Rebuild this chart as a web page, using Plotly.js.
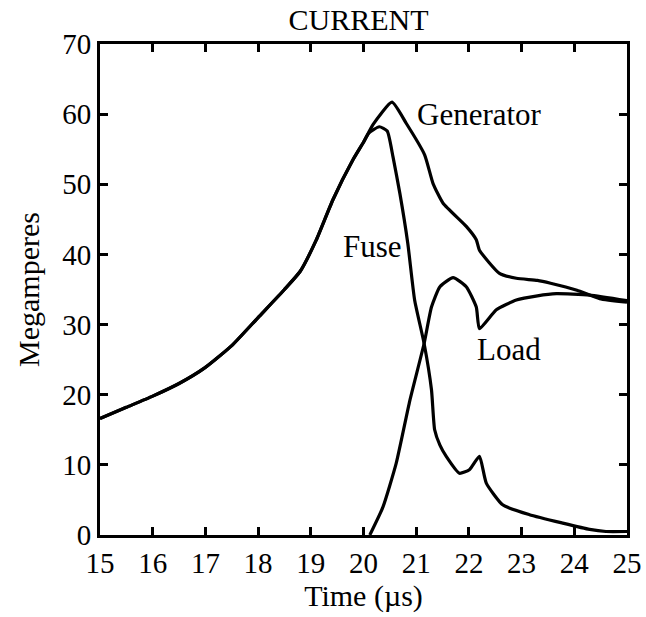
<!DOCTYPE html>
<html>
<head>
<meta charset="utf-8">
<script src="https://cdn.plot.ly/plotly-3.0.1.min.js"></script>
<style>html,body{margin:0;padding:0;background:#fff;}#chart{width:646px;height:617px;}</style>
</head>
<body>
<div id="chart"></div>
<script>
// Time (µs) and current (MA)
const genTime = [15.0, 15.5, 16.0, 16.5, 17.0, 17.5, 18.0, 18.5, 18.8, 19.1, 19.42, 19.8, 20.0, 20.18, 20.54, 20.81, 21.16, 21.32, 21.51, 21.95, 22.14, 22.2, 22.58, 22.9, 23.3, 23.55, 24.05, 24.48, 25.0];
const genCurrent = [16.6, 18.2, 19.8, 21.6, 23.9, 27.0, 31.0, 35.0, 37.6, 42.0, 47.8, 53.5, 56.0, 58.5, 61.7, 58.7, 54.2, 50.1, 47.3, 44.0, 42.1, 40.6, 37.3, 36.6, 36.3, 35.9, 34.9, 33.7, 33.2];

const fuseTime = [15.0, 15.5, 16.0, 16.5, 17.0, 17.5, 18.0, 18.5, 18.8, 19.1, 19.42, 19.8, 20.0, 20.1, 20.3, 20.45, 20.56, 20.69, 20.84, 20.97, 21.15, 21.29, 21.35, 21.45, 21.57, 21.82, 22.01, 22.2, 22.33, 22.64, 23.15, 23.78, 24.29, 24.6, 25.0];
const fuseCurrent = [16.6, 18.2, 19.8, 21.6, 23.9, 27.0, 31.0, 35.0, 37.6, 42.0, 47.8, 53.5, 56.0, 57.3, 58.2, 57.6, 53.9, 48.7, 41.6, 33.5, 27.3, 20.7, 15.0, 12.8, 11.2, 8.8, 9.3, 11.2, 7.4, 4.3, 2.9, 1.7, 0.8, 0.5, 0.5];

const loadTime = [20.12, 20.37, 20.62, 20.88, 21.15, 21.29, 21.45, 21.7, 21.95, 22.14, 22.2, 22.52, 22.9, 23.3, 23.66, 24.29, 25.0];
const loadCurrent = [0.0, 4.0, 10.2, 19.2, 27.3, 32.5, 35.4, 36.7, 35.4, 32.5, 29.4, 32.1, 33.5, 34.1, 34.4, 34.2, 33.4];

const xTickVals = [15, 16, 17, 18, 19, 20, 21, 22, 23, 24, 25];
const yTickVals = [0, 10, 20, 30, 40, 50, 60, 70];

const serif = 'Liberation Serif';
const lineStyle = {color: '#000', width: 3.2, shape: 'spline', smoothing: 0.5};

const traces = [
  {x: genTime, y: genCurrent, mode: 'lines', line: lineStyle, name: 'Generator'},
  {x: fuseTime, y: fuseCurrent, mode: 'lines', line: lineStyle, name: 'Fuse'},
  {x: loadTime, y: loadCurrent, mode: 'lines', line: lineStyle, name: 'Load'}
];

const axisCommon = {
  showgrid: false, zeroline: false,
  showline: true, linecolor: '#000', linewidth: 3,
  mirror: 'ticks', ticks: 'inside', ticklen: 8, tickwidth: 3, tickcolor: '#000',
  tickfont: {family: serif, size: 29, color: '#000'}
};

const layout = {
  width: 646, height: 617,
  margin: {l: 100, r: 19, t: 44, b: 82, autoexpand: false},
  paper_bgcolor: '#fff', plot_bgcolor: '#fff',
  showlegend: false,
  font: {family: serif, color: '#000'},
  title: {text: 'CURRENT', font: {family: serif, size: 30, color: '#000'}, x: 0.555, xanchor: 'center', y: 0.968, yanchor: 'middle'},
  xaxis: Object.assign({}, axisCommon, {
    range: [15, 25], tickvals: xTickVals, ticktext: xTickVals.map(String),
    title: {text: 'Time (µs)', font: {family: serif, size: 30, color: '#000'}, standoff: 6}
  }),
  yaxis: Object.assign({}, axisCommon, {
    range: [0, 70], tickvals: yTickVals, ticktext: yTickVals.map(String),
    title: {text: 'Megamperes', font: {family: serif, size: 30, color: '#000'}, standoff: 14}
  }),
  annotations: [
    {x: 20.97, y: 59.9, xref: 'x', yref: 'y', text: 'Generator', showarrow: false, xanchor: 'left', yanchor: 'middle', font: {family: serif, size: 31, color: '#000'}},
    {x: 19.58, y: 41.2, xref: 'x', yref: 'y', text: 'Fuse', showarrow: false, xanchor: 'left', yanchor: 'middle', font: {family: serif, size: 31, color: '#000'}},
    {x: 22.11, y: 26.5, xref: 'x', yref: 'y', text: 'Load', showarrow: false, xanchor: 'left', yanchor: 'middle', font: {family: serif, size: 31, color: '#000'}}
  ]
};

Plotly.newPlot('chart', traces, layout, {displayModeBar: false, staticPlot: true});
</script>
</body>
</html>
